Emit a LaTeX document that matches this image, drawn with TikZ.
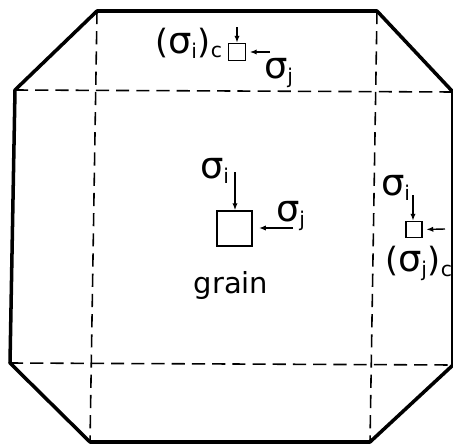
\documentclass[tikz,border=0pt]{standalone}
\usepackage{fontspec}
\setmainfont{DejaVu Sans}
\usepackage{tikz}
\usetikzlibrary{calc}
\usetikzlibrary{arrows.meta}
\usetikzlibrary{positioning}

\newcommand{\sg}[1]{{\fontsize{21}{21}\selectfont σ}\textsubscript{#1}}
\newcommand{\pr}[1]{{\fontsize{19}{19}\selectfont #1}}

\begin{document}
\begin{tikzpicture}[
        lbl/.style={inner sep=0pt, font=\fontsize{16.5}{19}\selectfont},
        sq/.style={draw, thick, minimum size=#1, inner sep=0pt},
        arr/.style={line width=0.8pt, -{Latex[length=4pt,width=3pt]}},
        cut/.style={line width=0.9pt, dash pattern=on 7.5pt off 4pt}
    ]
            \useasboundingbox (0,0) rectangle (9.06,8.88);

            \coordinate (A) at (1.94,8.66);
            \coordinate (B) at (7.54,8.66);
            \coordinate (C) at (9.06,7.04);
            \coordinate (D) at (9.06,1.58);
            \coordinate (E) at (7.40,0.04);
            \coordinate (F) at (1.80,0.04);
            \coordinate (G) at (0.20,1.62);
            \coordinate (H) at (0.30,7.08);

            \draw[line width=2pt, line join=round] (A)--(B)--(C)--(D)--(E)--(F)--(G)--(H)--cycle;

            \draw[cut] (A)--(F);
            \draw[cut] (B)--(E);
            \draw[cut] (H)--(C);
            \draw[cut] (G)--(D);

            % grain
            \node[sq=0.7cm] (sqgrain) at (4.69,4.31) {};
            \coordinate (gi) at (4.70,5.44);
            \coordinate (gj) at (5.86,4.32);
            \draw[arr] (gi) -- (gi |- sqgrain.north);
            \draw[arr, shorten >=3.5pt] (gj) -- (gj -| sqgrain.east);

            \node[lbl] (lgi) at (4.30,5.46) {\sg{i}};
            \node[lbl] (lgj) at (5.82,4.56) {\sg{j}};
            \node[lbl] (lgrain) at (4.62,3.18) {grain};

            % top corner
            \node[sq=0.34cm] (sqtop) at (4.74,7.84) {};
            \coordinate (ti) at (4.74,8.34);
            \coordinate (tj) at (5.40,7.84);
            \draw[arr] (ti) -- (sqtop.north);
            \draw[arr, shorten >=2pt] (tj) -- (sqtop.east);

            \node[lbl] (lti) at (3.78,8.02) {\pr{(}\sg{i}\pr{)}\textsubscript{c}};
            \node[lbl] (ltj) at (5.58,7.42) {\sg{j}};

            % right corner
            \node[sq=0.32cm] (sqright) at (8.28,4.29) {};
            \coordinate (ri) at (8.26,4.98);
            \coordinate (rj) at (8.90,4.30);
            \draw[arr] (ri) -- (ri |- sqright.north);
            \draw[arr, shorten >=2pt] (rj) -- (sqright.east);

            \node[lbl] (lri) at (7.92,5.12) {\sg{i}};
            \node[lbl] (lrj) at (8.38,3.61) {\pr{(}\sg{j}\pr{)}\textsubscript{c}};
        \end{tikzpicture}
\end{document}
